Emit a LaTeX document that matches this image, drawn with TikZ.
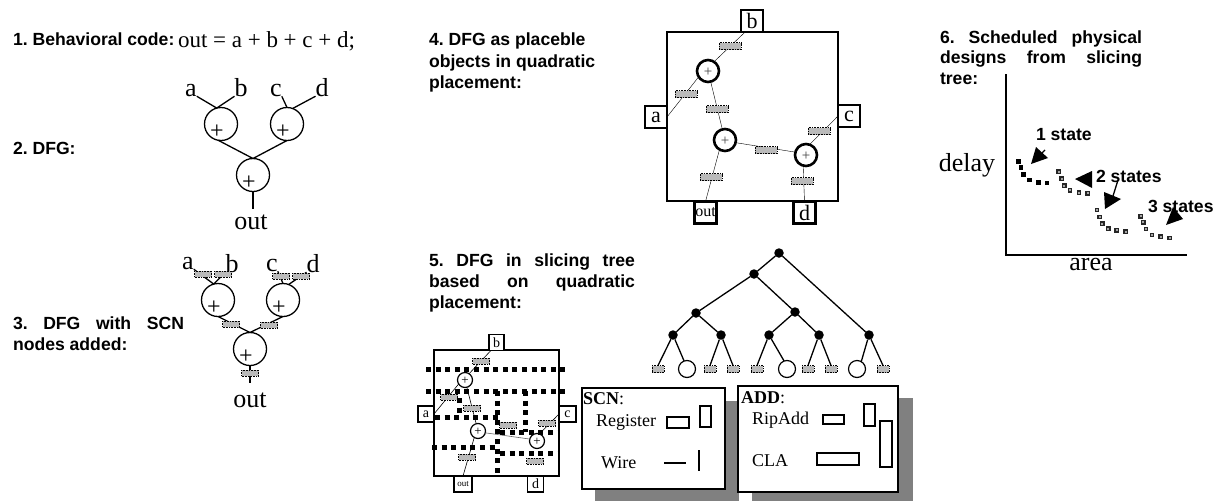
\documentclass[tikz,border=0pt]{standalone}
\usepackage{fontspec}
\setmainfont{Liberation Serif}
\newfontfamily\arialf{Liberation Sans}
\frenchspacing
\newcommand{\fsz}[1]{\fontsize{#1}{#1}\selectfont}
\newcommand{\jl}[2]{\makebox[#1pt][s]{#2}}
\tikzset{
 lbl/.style={anchor=base west,inner sep=0,outer sep=0,font=\arialf\bfseries\fsz{17.6}},
 ser/.style={anchor=base,inner sep=0,outer sep=0,font=\fsz{#1}},
 serl/.style={anchor=base west,inner sep=0,outer sep=0,font=\fsz{#1}},
 opc/.style={circle,draw=black,fill=white,line width=1.3pt,inner sep=0,outer sep=0,minimum size=33pt,
   label={[font=\fsz{24},inner sep=0,xshift=-4pt,yshift=-8pt]center:+}},
 opd/.style={circle,draw=black,fill=white,line width=2.6pt,inner sep=0,outer sep=0,minimum size=22pt,
   label={[font=\fsz{15},text=black!75,inner sep=0,yshift=-1pt]center:+}},
 ope/.style={circle,draw=black,fill=white,line width=1.2pt,inner sep=0,outer sep=0,minimum size=15pt,
   label={[font=\fsz{13},inner sep=0,yshift=-1pt]center:+}},
 scn/.style={rectangle,draw=black,densely dotted,fill=black!27,line width=.6pt,inner sep=0,outer sep=0,minimum width=#1,minimum height=6pt},
 scn/.default=17pt,
 scnb/.style={scn=22pt,minimum height=7pt},
 pinb/.style={rectangle,draw=black,fill=white,line width=2.6pt,inner sep=0,outer sep=0,minimum width=22pt,minimum height=22pt,font=\fsz{22}},
 pins/.style={rectangle,draw=black,fill=white,line width=1.1pt,inner sep=0,outer sep=0,minimum width=16pt,minimum height=16pt,font=\fsz{14}},
 cut/.style={line width=5pt,dash pattern=on 5pt off 4.6pt},
 tn/.style={circle,fill=black,inner sep=0,outer sep=0,minimum size=9.5pt},
 leaf/.style={circle,draw=black,fill=white,line width=1.2pt,inner sep=0,outer sep=0,minimum size=17pt},
 lf/.style={scn=12pt,minimum height=7pt},
 wire/.style={line width=1.3pt},
 card/.style={rectangle,draw=black,fill=white,line width=1.3pt,inner sep=0,outer sep=0,anchor=north west},
 cell/.style={rectangle,draw=black,fill=white,line width=1.3pt,inner sep=0,outer sep=0},
 headtip/.style={fill=black},
}
\begin{document}
\begin{tikzpicture}[x=1pt,y=-1pt]
\useasboundingbox (0,0) rectangle (1214,501);
% ---- 1
\node[lbl] (t1) at (13,45) {1. Behavioral code:};
\node[serl=23] (code) at (178,47) {\jl{177}{out = a + b + c + d;}};
% ---- 2
\node[lbl] (t2) at (13,154) {2. DFG:};
\node[opc] (a1) at (221,124) {};
\node[opc] (a2) at (287,124) {};
\node[opc] (a3) at (253,175) {};
\node[ser=26] (aa) at (191,96) {a};
\node[ser=26] (ab) at (241,96) {b};
\node[ser=26] (ac) at (276,96) {c};
\node[ser=26] (ad) at (322,96) {d};
\node[ser=26] (aout) at (251,229) {out};
\draw[wire] (aa.south east) -- (a1.105);
\draw[wire] (ab.south west) -- (a1.105);
\draw[wire] (ac.south east) -- (a2.90);
\draw[wire] (ad.south west) -- (a2.70);
\draw[wire] (a1.-100) -- (a3.north);
\draw[wire] (a2.-90) -- (a3.north);
\draw[wire] (a3.south) -- (253,209) coordinate (aoutp);
% ---- 3
\node[lbl] (t3a) at (13,329) {\jl{171}{3. DFG with SCN}};
\node[lbl] (t3b) at (13,350) {nodes added:};
\node[opc] (b1) at (218,300) {};
\node[opc] (b2) at (283,300) {};
\node[opc] (b3) at (250,349) {};
\node[ser=26] (ba) at (188,269) {a};
\node[ser=26] (bb) at (232,272) {b};
\node[ser=26] (bc) at (272,271) {c};
\node[ser=26] (bd) at (313,272) {d};
\node[ser=26] (bout) at (250,407) {out};
\draw[wire] (ba.south east) -- (b1.105);
\draw[wire] (bb.south west) -- (b1.105);
\draw[wire] (bc.south east) -- (b2.90);
\draw[wire] (bd.south west) -- (b2.70);
\draw[wire] (b1.-90) -- (b3.north);
\draw[wire] (b2.-90) -- (b3.north);
\draw[wire] (b3.south) -- (250,383) coordinate (boutp);
\foreach \n/\x/\y in {s1/203/274,s2/223/274,s3/281/276,s4/301/276,s5/231/324,s6/269/325,s7/250/373}
  \node[scn] (\n) at (\x,\y) {};
% ---- 4
\node[lbl] (t4a) at (429,45) {4. DFG as placeble};
\node[lbl] (t4b) at (429,67) {objects in quadratic};
\node[lbl] (t4c) at (429,88) {placement:};
\node[rectangle,draw=black,line width=2.6pt,inner sep=0,outer sep=0,anchor=north west,minimum width=171pt,minimum height=169pt] (chip) at (667,32) {};
\node[pinb] (pb) at (752,21) {b};
\node[pinb] (pa) at (656,117) {a};
\node[pinb] (pc) at (849,116) {c};
\node[pinb,font=\fsz{16}] (po) at (705.5,212.5) {out};
\node[pinb] (pd) at (804.5,212.5) {d};
\node[opd] (c1) at (708,71) {};
\node[opd] (c2) at (725,140) {};
\node[opd] (c3) at (806,155) {};
\draw (pb.-122) -- (c1.57);
\draw (pa.east) -- (c1.212);
\draw (c1.-76) -- (c2.104);
\draw (c2.-14) -- (c3.165);
\draw (c3.71) -- (pc.west);
\draw (c3.-105) -- (pd.north);
\draw (c2.-120) -- (po.north);
\foreach \n/\x/\y in {d1/730/46,d2/686/94,d3/717/109,d4/766/150,d5/819/131,d6/711/177,d7/802/181}
  \node[scnb] (\n) at (\x,\y) {};
% ---- 5
\node[lbl] (t5a) at (429,266) {\jl{206}{5. DFG in slicing tree}};
\node[lbl] (t5b) at (429,287) {\jl{206}{based on quadratic}};
\node[lbl] (t5c) at (429,308) {placement:};
\node[rectangle,draw=black,line width=1.1pt,inner sep=0,outer sep=0,anchor=north west,minimum width=125pt,minimum height=126pt] (mini) at (434,350) {};
\node[pins,minimum width=15pt] (qb) at (496.5,342.5) {b};
\node[pins] (qa) at (426,414) {a};
\node[pins,minimum width=17pt] (qc) at (567.5,414) {c};
\node[pins,minimum width=18pt,font=\fsz{9}] (qo) at (463,484) {out};
\node[pins] (qd) at (535.5,484) {d};
\node[ope] (e1) at (465,380) {};
\node[ope] (e2) at (478,431) {};
\node[ope] (e3) at (537,441) {};
\draw[line width=.6pt] (qb.-125) -- (e1.57);
\draw[line width=.6pt] (qa.east) -- (e1.212);
\draw[line width=.6pt] (e1.-76) -- (e2.104);
\draw[line width=.6pt,black!60] (e2.-14) -- (e3.165);
\draw[line width=.6pt] (e3.71) -- (qc.west);
\draw[line width=.6pt] (e2.-120) -- (qo.north);
\foreach \n/\x/\y in {f1/481/361,f2/449/397,f3/472/408,f4/508/425,f5/547/423,f6/467/457,f7/535/461}
  \node[scn] (\n) at (\x,\y) {};
\draw[cut] (426,369) -- (569,369);
\draw[cut] (426,391) -- (569,391);
\draw[cut] (435,417) -- (498,417);
\draw[cut] (432,447) -- (498,447);
\draw[cut] (497,391) -- (497,476);
\draw[cut] (500,432) -- (559,432);
\draw[cut] (500,453) -- (560,453);
\draw[cut] (525,391) -- (525,432);
\draw[cut] (459,398) -- (459,417);
% ---- tree
\foreach \n/\x/\y in {r/779/253,n1/754/274,n2/696/313,n3/795/312,n4/869/335,n5/673/335,n6/721/335,n7/769/335,n8/819/335}
  \node[tn] (\n) at (\x,\y) {};
\node[lf] (l1) at (658,369) {};
\node[leaf] (l2) at (687,369) {};
\node[lf] (l3) at (710,369) {};
\node[lf] (l4) at (733,369) {};
\node[lf] (l5) at (757,369) {};
\node[leaf] (l6) at (787,369) {};
\node[lf] (l7) at (808,369) {};
\node[lf] (l8) at (831,369) {};
\node[leaf] (l9) at (857,369) {};
\node[lf] (l10) at (883,369) {};
\draw[wire] (r)--(n1) (r)--(n4) (n1)--(n2) (n1)--(n3) (n2)--(n5) (n2)--(n6) (n3)--(n7) (n3)--(n8);
\draw[wire] (n5)--(l1.north) (n5)--(l2.110) (n6)--(l3.north) (n6)--(l4.north) (n7)--(l5.north) (n7)--(l6.110)
  (n8)--(l7.north) (n8)--(l8.north) (n4)--(l9.60) (n4)--(l10.north);
% ---- cards
\fill[black!50] (595,401) rectangle (739,501);
\fill[black!50] (752,398) rectangle (913,501);
\node[card,minimum width=143pt,minimum height=101pt] (cs) at (582,388) {};
\node[card,minimum width=160pt,minimum height=106pt] (ca) at (738,386) {};
\node[serl=18] (hs) at (583,404) {\textbf{SCN}:};
\node[serl=18] (reg) at (596,426) {Register};
\node[serl=18] (wr) at (601,468) {Wire};
\node[serl=18] (ha) at (741,403) {\textbf{ADD}:};
\node[serl=18] (rip) at (752,424) {RipAdd};
\node[serl=18] (cla) at (752,466) {CLA};
\node[cell,minimum width=22pt,minimum height=11pt] (r1) at (678,422.5) {};
\node[cell,minimum width=11pt,minimum height=21pt] (r2) at (705.5,416.5) {};
\draw[wire] (664,463) coordinate (w1a) -- (686,463) coordinate (w1b);
\draw[wire] (699,450) coordinate (w2a) -- (699,471) coordinate (w2b);
\node[cell,minimum width=21pt,minimum height=9pt] (r3) at (833.5,419.5) {};
\node[cell,minimum width=11pt,minimum height=22pt] (r4) at (869.5,415) {};
\node[cell,minimum width=12pt,minimum height=46pt] (r5) at (886,444) {};
\node[cell,minimum width=42pt,minimum height=12pt] (r6) at (838,459) {};
% ---- 6
\node[lbl] (t6a) at (940,43) {\jl{202}{6. Scheduled physical}};
\node[lbl] (t6b) at (940,63) {\jl{202}{designs from slicing}};
\node[lbl] (t6c) at (940,84) {tree:};
\node[ser=26] (dl) at (967,171) {delay};
\node[ser=26] (ar) at (1091,270) {area};
\draw[line width=1.3pt] (1006,74) coordinate (yt) -- (1006,255) coordinate (og) -- (1187,255) coordinate (xt);
\foreach \x/\y in {295/455,303/473,311/494,328/510,355/517,381/519}
  \fill[black] ({\x/3+917.7},{\y/3+7.7}) rectangle ++(4.6,4.6);
\foreach \x/\y in {416/485,425/506,433/527,450/541,477/548,503/550,531/600,539/621,547/641,565/656,590/661,617/665,662/619,670/637,678/657,696/675,722/680,749/684}
  \draw[black!85,fill=black!35,line width=1.4pt] ({\x/3+918.4},{\y/3+8.4}) rectangle ++(3.2,3.2);
\node[lbl] (s1l) at (1036,140) {1 state};
\node[lbl] (s2l) at (1096,182) {2 states};
\node[lbl] (s3l) at (1148,212) {3 states};
\draw[wire] (1045,150) -- (1042,153);
\fill[headtip] (1031,164) -- (1036,147) -- (1048,158) -- cycle;
\fill[headtip] (1075,179) -- (1092,171) -- (1092,188) -- cycle;
\draw[wire] (1118,180) -- (1113,196);
\fill[headtip] (1105,209) -- (1104,192) -- (1121,199) -- cycle;
\fill[headtip] (1166,225) -- (1173,207) -- (1183,219) -- cycle;
\end{tikzpicture}
\end{document}
